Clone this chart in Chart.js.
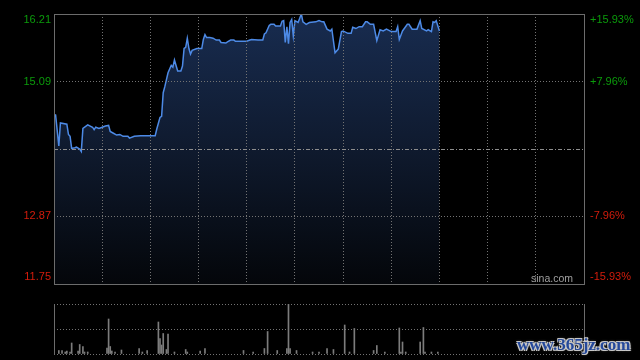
<!DOCTYPE html>
<html>
<head>
<meta charset="utf-8">
<script src="https://cdn.jsdelivr.net/npm/chart.js@4.4.1/dist/chart.umd.min.js"></script>
<style>
    html, body { margin: 0; padding: 0; background: #000; }
    #wrap { position: relative; width: 640px; height: 360px; overflow: hidden; background: #000; }
    #priceBox { position: absolute; left: 0; top: 0; width: 640px; height: 300px; }
    #volBox { position: absolute; left: 0; top: 300px; width: 640px; height: 60px; }
    #mark {
        position: absolute; left: 517px; top: 335px;
        font: bold 17px "Liberation Serif", "DejaVu Serif", serif;
        color: #24489a;
        text-shadow: 1px 1px 0 #c8c8c8, -1px -1px 0 #c8c8c8, 1px -1px 0 #c8c8c8, -1px 1px 0 #c8c8c8,
                     0 0 3px #9a9a9a;
        white-space: nowrap;
    }
</style>
</head>
<body>
<div id="wrap">
    <div id="priceBox"><canvas id="priceChart"></canvas></div>
    <div id="volBox"><canvas id="volChart"></canvas></div>
    <div id="mark">www.365jz.com</div>
</div>
<script>
// minutes since open (330 minute session), and the price at each turn of the line
const minutes = [0, 1, 3, 4, 8, 9, 10, 11, 13, 14, 16, 17, 18, 21, 24, 25, 26, 28, 30, 32,
    34, 35, 37, 39, 41, 43, 46, 47, 50, 54, 58, 63, 64, 66, 67, 68, 69, 71, 73, 74,
    75, 77, 79, 80, 81, 82, 83, 84, 85, 86, 89, 92, 93, 94, 95, 97, 99, 101, 103, 104,
    107, 108, 110, 112, 113, 120, 122, 123, 127, 130, 131, 132, 134, 135, 137, 138, 141, 142, 143, 144,
    145, 146, 147, 148, 149, 150, 152, 154, 155, 157, 159, 163, 165, 167, 168, 170, 172, 173, 175, 177,
    179, 180, 183, 185, 186, 188, 190, 192, 194, 195, 197, 199, 201, 203, 205, 207, 210, 213, 214, 215,
    217, 220, 221, 223, 226, 228, 229, 232, 233, 235, 236, 237, 238, 239, 240];
const prices = [14.55, 14.54, 14.03, 14.41, 14.39, 14.22, 14.19, 13.99, 14.00, 14.01, 13.98, 13.94, 14.32, 14.38, 14.34, 14.30, 14.34, 14.32, 14.34, 14.36,
    14.37, 14.27, 14.24, 14.21, 14.22, 14.19, 14.19, 14.16, 14.19, 14.20, 14.20, 14.20, 14.31, 14.50, 14.52, 14.91, 15.01, 15.24, 15.36, 15.33,
    15.45, 15.27, 15.27, 15.35, 15.64, 15.66, 15.81, 15.64, 15.55, 15.61, 15.64, 15.64, 15.79, 15.87, 15.82, 15.82, 15.81, 15.78, 15.78, 15.74,
    15.73, 15.75, 15.78, 15.78, 15.76, 15.76, 15.78, 15.79, 15.78, 15.78, 15.88, 15.90, 16.02, 16.04, 16.04, 16.01, 16.01, 16.09, 16.10, 15.74,
    16.00, 15.72, 16.07, 16.12, 15.85, 16.10, 16.07, 16.21, 16.08, 16.04, 16.07, 16.08, 16.10, 16.08, 16.08, 15.96, 15.93, 15.96, 15.57, 15.63,
    15.92, 15.93, 15.89, 15.89, 15.99, 15.97, 16.00, 16.00, 16.08, 16.08, 16.04, 16.04, 15.77, 15.95, 15.93, 15.96, 15.92, 15.92, 16.00, 15.79,
    15.93, 16.04, 16.04, 15.96, 15.96, 16.10, 15.97, 15.93, 15.95, 15.92, 16.08, 16.07, 16.10, 16.01, 15.93];

// volume bars (relative, tallest = 100)
const volMinutes = [3, 5, 7, 8, 10, 11, 15, 16, 18, 19, 21, 33, 34, 35, 36, 38, 42, 53, 55, 58,
    65, 66, 67, 68, 70, 71, 75, 82, 83, 91, 94, 118, 124, 131, 133, 139, 145, 146, 147, 151,
    161, 165, 170, 174, 181, 184, 187, 199, 201, 206, 215, 216, 217, 219, 228, 230, 231, 235, 239];
const volumes = [7, 7, 4, 6, 4, 22, 6, 19, 15, 4, 4, 12, 70, 15, 6, 4, 8, 11, 4, 7,
    64, 31, 18, 41, 9, 40, 4, 9, 4, 6, 11, 7, 4, 11, 45, 7, 11, 100, 11, 7,
    4, 4, 11, 9, 58, 4, 51, 7, 17, 4, 52, 4, 24, 4, 24, 53, 4, 4, 4];

const priceTicks = [11.75, 12.87, 13.98, 15.09, 16.21];
const pctLabels = ['-15.93%', '-7.96%', '', '+7.96%', '+15.93%'];
const prevClose = 13.98;
const timeTicks = [0, 30, 60, 90, 120, 150, 180, 210, 240, 270, 300, 330];
const volTicks = [0, 50, 100];

const GREEN = '#0b9b0b';
const RED = '#d41c0c';
const GRID = '#737373';
const FRAME = '#6c6c6c';
const LABEL_FONT = '11px "Liberation Sans", Arial, sans-serif';

function setTicks(values) {
    return function(scale) {
        scale.ticks = values.map(v => ({ value: v }));
    };
}

// hide the grid lines that sit on the frame, the frame is drawn solid below
function innerOnly(values, skip) {
    return function(ctx) {
        const v = values[ctx.index];
        if (ctx.index === 0 || ctx.index === values.length - 1) return 'rgba(0,0,0,0)';
        if (skip !== undefined && v === skip) return 'rgba(0,0,0,0)';
        return GRID;
    };
}

const priceFrame = {
    id: 'priceFrame',
    afterDraw(chart) {
        const { ctx, chartArea: a, scales } = chart;
        ctx.save();

        // previous close, dash-dot
        const yc = Math.round(scales.y.getPixelForValue(prevClose)) + 0.5;
        ctx.strokeStyle = '#8e8e8e';
        ctx.lineWidth = 1;
        ctx.setLineDash([4, 2, 1, 2]);
        ctx.beginPath();
        ctx.moveTo(a.left, yc);
        ctx.lineTo(a.right, yc);
        ctx.stroke();
        ctx.setLineDash([]);

        ctx.strokeStyle = FRAME;
        ctx.strokeRect(a.left + 0.5, a.top + 0.5, a.right - a.left, a.bottom - a.top);

        // price labels left, change labels right
        ctx.font = LABEL_FONT;
        ctx.textBaseline = 'middle';
        priceTicks.forEach((v, i) => {
            if (v === prevClose) return;
            let y = scales.y.getPixelForValue(v);
            if (i === priceTicks.length - 1) y += 6;
            if (i === 0) y -= 7;
            ctx.fillStyle = v > prevClose ? GREEN : RED;
            ctx.textAlign = 'right';
            ctx.fillText(v.toFixed(2), a.left - 3, y);
            ctx.textAlign = 'left';
            ctx.fillText(pctLabels[i], a.right + 6, y);
        });

        ctx.font = '10.5px "Liberation Sans", Arial, sans-serif';
        ctx.fillStyle = '#a0a0a0';
        ctx.textAlign = 'right';
        ctx.textBaseline = 'alphabetic';
        ctx.fillText('sina.com', a.right - 11, a.bottom - 2);
        ctx.restore();
    }
};

const volFrame = {
    id: 'volFrame',
    afterDraw(chart) {
        const { ctx, chartArea: a } = chart;
        ctx.save();
        ctx.strokeStyle = FRAME;
        ctx.lineWidth = 1;
        ctx.beginPath();
        ctx.moveTo(a.left + 0.5, a.top);
        ctx.lineTo(a.left + 0.5, a.bottom + 1);
        ctx.moveTo(a.right + 0.5, a.top);
        ctx.lineTo(a.right + 0.5, a.bottom + 1);
        ctx.stroke();
        ctx.restore();
    }
};

document.addEventListener('DOMContentLoaded', function() {
    const points = minutes.map((m, i) => ({ x: m, y: prices[i] }));

    new Chart(document.getElementById('priceChart'), {
        type: 'line',
        data: {
            datasets: [{
                data: points,
                borderColor: '#4d8ae6',
                borderWidth: 1.5,
                pointRadius: 0,
                tension: 0,
                fill: 'start',
                backgroundColor: function(context) {
                    const a = context.chart.chartArea;
                    if (!a) return 'rgba(0,0,0,0)';
                    const g = context.chart.ctx.createLinearGradient(0, a.top, 0, a.bottom);
                    g.addColorStop(0, '#182c50');
                    g.addColorStop(0.5, '#0f1a2e');
                    g.addColorStop(1, '#04060a');
                    return g;
                }
            }]
        },
        options: {
            responsive: true,
            maintainAspectRatio: false,
            animation: false,
            events: [],
            layout: { padding: { left: 54, right: 56, top: 14, bottom: 16 } },
            plugins: { legend: { display: false }, tooltip: { enabled: false } },
            scales: {
                x: {
                    type: 'linear',
                    min: 0,
                    max: 330,
                    afterBuildTicks: setTicks(timeTicks),
                    ticks: { display: false },
                    grid: { color: innerOnly(timeTicks), drawTicks: false, lineWidth: 1, z: 1 },
                    border: { display: false, dash: [1, 2] }
                },
                y: {
                    min: priceTicks[0],
                    max: priceTicks[priceTicks.length - 1],
                    afterBuildTicks: setTicks(priceTicks),
                    ticks: { display: false },
                    grid: { color: innerOnly(priceTicks, prevClose), drawTicks: false, lineWidth: 1, z: 1 },
                    border: { display: false, dash: [1, 2] }
                }
            }
        },
        plugins: [priceFrame]
    });

    new Chart(document.getElementById('volChart'), {
        type: 'bar',
        data: {
            datasets: [{
                data: volMinutes.map((m, i) => ({ x: m, y: volumes[i] })),
                backgroundColor: '#7c7c7c',
                barThickness: 1,
                borderWidth: 0
            }]
        },
        options: {
            responsive: true,
            maintainAspectRatio: false,
            animation: false,
            events: [],
            layout: { padding: { left: 54, right: 56, top: 4, bottom: 6 } },
            plugins: { legend: { display: false }, tooltip: { enabled: false } },
            scales: {
                x: {
                    type: 'linear',
                    min: 0,
                    max: 330,
                    offset: false,
                    ticks: { display: false },
                    grid: { display: false, drawTicks: false },
                    border: { display: false }
                },
                y: {
                    min: 0,
                    max: 100,
                    afterBuildTicks: setTicks(volTicks),
                    ticks: { display: false },
                    grid: { color: GRID, drawTicks: false, lineWidth: 1 },
                    border: { display: false, dash: [1, 2] }
                }
            }
        },
        plugins: [volFrame]
    });
});
</script>
</body>
</html>
